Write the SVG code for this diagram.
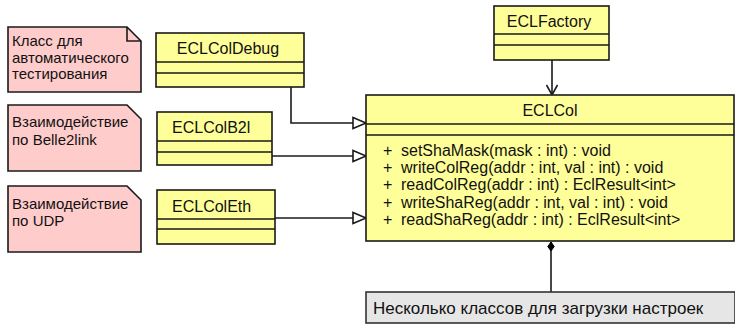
<svg xmlns="http://www.w3.org/2000/svg" width="735" height="324" viewBox="0 0 735 324">
<defs>
<style>
.cls{fill:#ffff99;stroke:#1a1a1a;stroke-width:1.6}
.note{fill:#ffcccc;stroke:#1a1a1a;stroke-width:1.6}
.ln{stroke:#1a1a1a;stroke-width:1.6;fill:none}
.t{font-family:"Liberation Sans",Arial,sans-serif;font-size:15px;fill:#111}
.n{font-size:16px}
.c{text-anchor:middle}
</style>
<marker id="tri" markerWidth="16" markerHeight="14" refX="14" refY="7" orient="auto" markerUnits="userSpaceOnUse">
<path d="M1,1.5 L14,7 L1,12.5 Z" fill="#fff" stroke="#1a1a1a" stroke-width="1.6"/>
</marker>
<marker id="open" markerWidth="18" markerHeight="12" refX="12" refY="6" orient="auto" markerUnits="userSpaceOnUse">
<path d="M2,0.5 L12,6 L2,11.5" fill="none" stroke="#1a1a1a" stroke-width="1.6"/>
</marker>
<marker id="dia" markerWidth="12" markerHeight="10" refX="10" refY="5" orient="auto" markerUnits="userSpaceOnUse">
<path d="M1,5 L5.5,1.8 L10,5 L5.5,8.2 Z" fill="#000" stroke="#000" stroke-width="1"/>
</marker>
</defs>
<rect width="735" height="324" fill="#fff"/>

<g id="connectors">
<path class="ln" d="M552,60 L552,95" marker-end="url(#open)"/>
<path class="ln" d="M291,87 L291,123 L366,123" marker-end="url(#tri)"/>
<path class="ln" d="M272,156 L366,156" marker-end="url(#tri)"/>
<path class="ln" d="M275,218 L366,218" marker-end="url(#tri)"/>
<path class="ln" d="M551,292 L551,242" marker-end="url(#dia)"/>
</g>

<g id="note1">
<path class="note" d="M8,27 L127,27 L141,41 L141,92 L8,92 Z"/>
<path class="ln" d="M127,27 L127,41 L141,41"/>
<text class="t" x="12" y="46">Класс для</text>
<text class="t" x="12" y="63">автоматического</text>
<text class="t" x="12" y="79">тестирования</text>
</g>

<g id="note2">
<path class="note" d="M8,105 L127,105 L141,119 L141,171 L8,171 Z"/>
<text class="t" x="12" y="127">Взаимодействие</text>
<text class="t" x="12" y="145">по Belle2link</text>
</g>

<g id="note3">
<path class="note" d="M8,186 L127,186 L141,200 L141,252 L8,252 Z"/>
<text class="t" x="12" y="209">Взаимодействие</text>
<text class="t" x="12" y="226">по UDP</text>
</g>

<g id="ECLFactory">
<rect class="cls" x="494" y="6" width="115" height="54"/>
<path class="ln" d="M494,34 H609 M494,45 H609"/>
<text class="t n c" x="549" y="27">ECLFactory</text>
</g>

<g id="ECLColDebug">
<rect class="cls" x="156" y="33" width="148" height="54"/>
<path class="ln" d="M156,62 H304 M156,73 H304"/>
<text class="t n c" x="228" y="54">ECLColDebug</text>
</g>

<g id="ECLColB2l">
<rect class="cls" x="157" y="112" width="115" height="53"/>
<path class="ln" d="M157,141 H272 M157,152 H272"/>
<text class="t n" x="172" y="133">ECLColB2l</text>
</g>

<g id="ECLColEth">
<rect class="cls" x="157" y="190" width="118" height="54"/>
<path class="ln" d="M157,219 H275 M157,229 H275"/>
<text class="t n" x="172" y="212">ECLColEth</text>
</g>

<g id="ECLCol">
<rect class="cls" x="366" y="95" width="368" height="146"/>
<path class="ln" d="M366,124 H734 M366,135 H734"/>
<text class="t n c" x="550" y="116">ECLCol</text>
<text class="t n" x="383" y="156">+</text>
<text class="t n" x="401" y="156">setShaMask(mask : int) : void</text>
<text class="t n" x="383" y="173">+</text>
<text class="t n" x="401" y="173">writeColReg(addr : int, val : int) : void</text>
<text class="t n" x="383" y="190">+</text>
<text class="t n" x="401" y="190">readColReg(addr : int) : EclResult&lt;int&gt;</text>
<text class="t n" x="383" y="208">+</text>
<text class="t n" x="401" y="208">writeShaReg(addr : int, val : int) : void</text>
<text class="t n" x="383" y="225">+</text>
<text class="t n" x="401" y="225">readShaReg(addr : int) : EclResult&lt;int&gt;</text>
</g>

<g id="settings">
<rect x="366" y="292" width="369" height="31" fill="#e6e6e6" stroke="#333" stroke-width="1.6"/>
<text class="t" style="font-size:17px" x="373" y="314">Несколько классов для загрузки настроек</text>
</g>
</svg>
